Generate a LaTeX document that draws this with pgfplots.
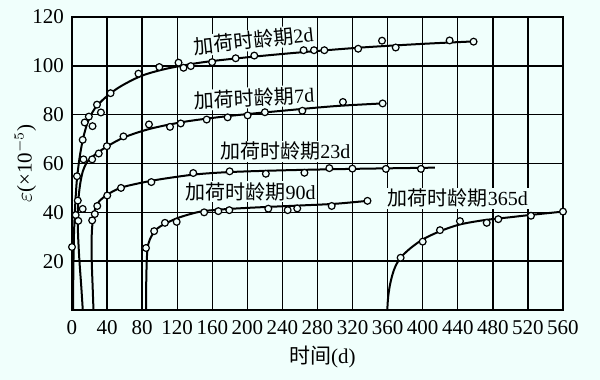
\documentclass[border=0pt]{standalone}
\usepackage{pgfplots}
\pgfplotsset{compat=1.18}
\usepackage{fontspec}
\setmainfont{Liberation Serif}
\newfontfamily\cjk{Noto Sans CJK SC}
\definecolor{bg}{RGB}{240,255,252}
\begin{document}
\begin{tikzpicture}
\fill[bg] (-36pt,-35pt) rectangle (264pt,155pt);
\begin{axis}[
  scale only axis, width=245.5pt, height=146.5pt,
  xmin=0, xmax=560, ymin=0, ymax=120,
  xtick={0,40,...,560}, ytick={20,40,...,120},
  grid=major, major grid style={black, line width=0.7pt},
  axis line style={black, line width=0.8pt},
  major tick length=0pt,
  /pgf/number format/assume math mode=true,
  tick label style={font=\fontsize{10.5}{12}\selectfont},
  xticklabel style={yshift=-1.5pt},
  yticklabel style={xshift=-0.5pt},
  xlabel={{\cjk 时间}(d)},
  ylabel={$\varepsilon$(×10$^{-5}$)},
  label style={font=\fontsize{10.5}{12}\selectfont},
  xlabel style={at={(axis description cs:0.51,-0.16)}, anchor=center},
  ylabel style={at={(axis description cs:-0.095,0.5)}, anchor=center},
  clip=false,
]
% fitted curves
\addplot[black, line width=1pt, smooth, tension=0.5] coordinates {
 (1.2,0) (1.5,15) (2.2,30) (3.5,42) (5.5,53) (8.5,62) (12.5,70) (18,77) (26,82.5) (38,87) (55,91.5) (80,96) (110,99) (150,101.5) (200,103.5) (260,105.5) (330,107.5) (400,109) (458,110)};
\addplot[black, line width=1pt, smooth, tension=0.5] coordinates {
 (12.3,0) (10.5,10) (8.5,20) (7,30) (6.5,38) (7.5,46) (9.5,52) (12.5,57) (17,60.5) (23,62.7) (30,64.6) (40,67) (60,70.8) (90,74.3) (130,77.2) (180,79.5) (240,81.6) (300,83.5) (354,84.6)};
\addplot[black, line width=1pt, smooth, tension=0.5] coordinates {
 (24.5,0) (23.5,10) (22.5,20) (22.3,28) (23,34) (24.5,38.5) (27,42) (31,44.5) (40,47.2) (55,50) (75,51.8) (100,53.5) (140,55.5) (180,56.5) (240,57.2) (320,57.8) (414,58.3)};
\addplot[black, line width=1pt, smooth, tension=0.5] coordinates {
 (84.5,0) (84.7,12) (85.5,22) (87,27) (91,30.5) (97,33.3) (106,35.3) (120,37.6) (135,39.3) (150,40.5) (175,41.3) (210,42) (260,42.8) (300,43.5) (337,44.7)};
\addplot[black, line width=1pt, smooth, tension=0.5] coordinates {
 (359.6,0) (360.5,5) (362.5,10) (365.5,14.5) (369,18) (375,21.5) (385,25) (400,28.9) (420,32.3) (442,35) (470,36.8) (500,38) (522,38.9) (560,40.3)};
% measured points
\addplot[only marks, mark=*, mark size=1.7pt, mark options={fill=bg, line width=0.6pt, draw=black}] coordinates {
 (0,25.8) (5.7,54.8) (12.2,69.7) (14.5,76.8) (19.2,79.2) (23.4,75.3) (28.5,84.1) (33,80.9) (44,88.8) (75.8,96.8) (99.6,99.5) (121.5,101.3) (127.2,99.2) (135.5,99.9) (159.8,101.5) (186.7,103.1) (207.9,104.2) (264.2,106.4) (276,106.4) (287.8,106.4) (326.4,107) (353.6,110.3) (369.2,107.5) (430.7,110.4) (458,109.9)};
\addplot[only marks, mark=*, mark size=1.7pt, mark options={fill=bg, line width=0.6pt, draw=black}] coordinates {
 (4.2,38.9) (6.6,44.8) (7.2,36.5) (12.2,41.4) (13.1,61.7) (23,61.7) (30.5,64.1) (39.8,67.1) (58.7,71.1) (87.8,76) (111.8,75) (124,76.4) (153.6,78) (177.5,78.9) (200.3,79.7) (220,81) (262.7,81.6) (309,85.2) (354.3,84.6)};
\addplot[only marks, mark=*, mark size=1.7pt, mark options={fill=bg, line width=0.6pt, draw=black}] coordinates {
 (23,36.7) (26,39.3) (28.8,42.6) (40.2,46.9) (55.9,50) (90.5,52.4) (138.3,56.1) (179.8,56.8) (221.1,55.8) (265.1,56.2) (293.5,58.1) (319.8,57.9) (358,57.8) (398,57.8)};
\addplot[only marks, mark=*, mark size=1.7pt, mark options={fill=bg, line width=0.6pt, draw=black}] coordinates {
 (84.4,25.4) (93.7,32.3) (106,35.7) (119.4,36.1) (150.7,40) (166.9,40.5) (179.4,40.9) (223.9,41.5) (246,40.9) (256.9,41.6) (296.2,42.6) (337,44.7)};
\addplot[only marks, mark=*, mark size=1.7pt, mark options={fill=bg, line width=0.6pt, draw=black}] coordinates {
 (374.8,21.4) (400,28) (419.7,32.7) (442.5,36.4) (473,35.7) (486.2,37.2) (523.5,38.6) (560,40.3)};
% labels
\begin{scope}[every node/.style={font=\fontsize{10}{12}\selectfont, fill=bg, inner sep=0.6pt}]
\node[rotate=6] at (axis cs:207,110.5) {{\cjk 加荷时龄期}2d};
\node[rotate=3] at (axis cs:208,87) {{\cjk 加荷时龄期}7d};
\node at (axis cs:243.5,65) {{\cjk 加荷时龄期}23d};
\node at (axis cs:203.6,48.4) {{\cjk 加荷时龄期}90d};
\node at (axis cs:440,45.8) {{\cjk 加荷时龄期}365d};
\end{scope}
\end{axis}
\pgfresetboundingbox
\path (-36pt,-35pt) rectangle (264pt,155pt);
\end{tikzpicture}
\end{document}
